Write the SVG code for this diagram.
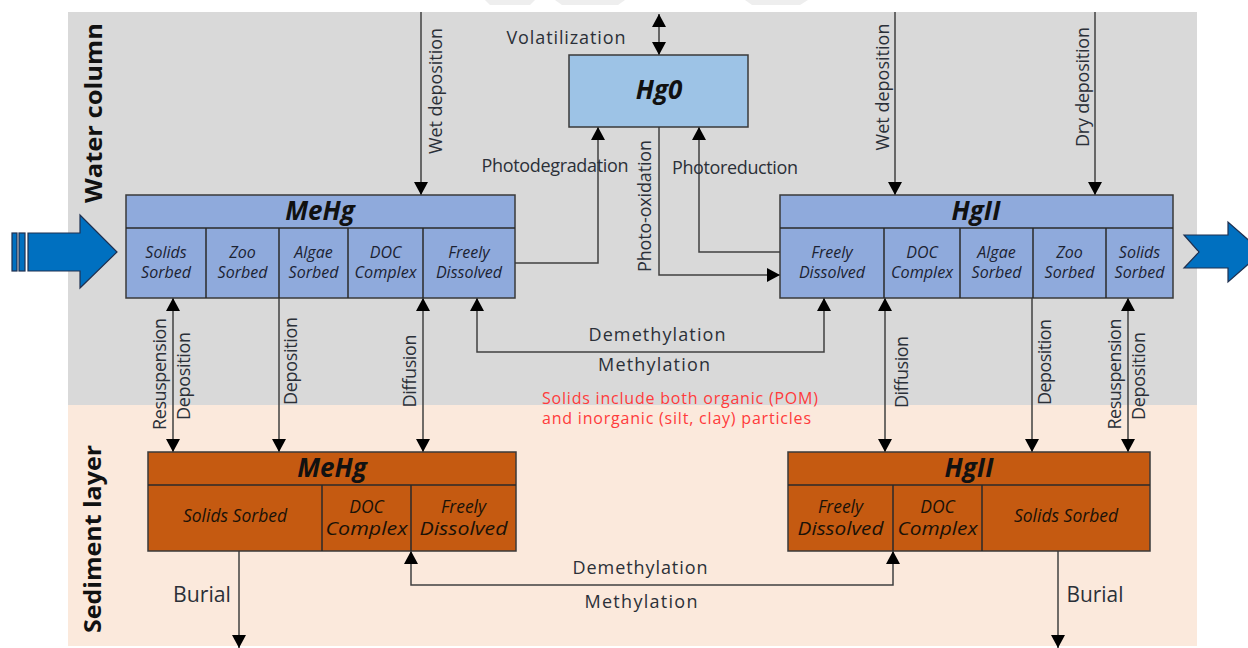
<svg xmlns="http://www.w3.org/2000/svg" width="1248" height="648" viewBox="0 0 1248 648">
<defs>
<style>
.lbl{font-family:"Open Sans","Liberation Sans",sans-serif;font-size:18px;fill:#2b3038}
.big{font-size:21px}
.cell{font-family:"Open Sans","Liberation Sans",sans-serif;font-size:16px;font-style:italic;fill:#1c2333;text-anchor:middle}
.scell{font-family:"Open Sans","Liberation Sans",sans-serif;font-size:17.5px;font-style:italic;fill:#1a1208;text-anchor:middle}
.hdr{font-family:"Open Sans","Liberation Sans",sans-serif;font-size:26px;font-weight:bold;font-style:italic;fill:#111;text-anchor:middle}
.zone{font-family:"Open Sans","Liberation Sans",sans-serif;font-size:24px;font-weight:bold;fill:#111;text-anchor:middle}
.red{font-family:"Open Sans","Liberation Sans",sans-serif;font-size:16px;fill:#ff3b3b}
.wbox{fill:#8faadc;stroke:#3a3a3a;stroke-width:1.5}
.sbox{fill:#c55a11;stroke:#3a3a3a;stroke-width:1.5}
.div{stroke:#2a2a2a;stroke-width:1.5;fill:none}
.con{stroke:#404040;stroke-width:1.5;fill:none}
.bigarrow{fill:#0070c0;stroke:#1f3050;stroke-width:1.2}
</style>
<marker id="ah" viewBox="0 0 14 14" markerWidth="14" markerHeight="14" refX="13" refY="7" orient="auto-start-reverse" markerUnits="userSpaceOnUse">
<path d="M0,0 L13,7 L0,14 z" fill="#000"/>
</marker>
</defs>

<!-- page -->
<rect x="0" y="0" width="1248" height="648" fill="#ffffff"/>
<g fill="#eeeeee">
<polygon points="485,0 535,0 530,5 490,5"/>
<polygon points="555,0 625,0 618,5 562,5"/>
<polygon points="745,0 808,0 800,5 752,5"/>
</g>

<!-- layers -->
<g id="water-column">
<rect x="68" y="12" width="1129" height="393" fill="#d9d9d9"/>
<text class="zone" transform="translate(102,113) rotate(-90)" textLength="180" lengthAdjust="spacingAndGlyphs">Water column</text>
</g>
<g id="sediment-layer">
<rect x="68" y="405" width="1129" height="241" fill="#fbe9dc"/>
<text class="zone" transform="translate(101,539) rotate(-90)" textLength="188" lengthAdjust="spacingAndGlyphs">Sediment layer</text>
</g>

<!-- big flow arrows -->
<g id="inflow">
<rect x="12" y="233" width="5" height="38" class="bigarrow"/>
<rect x="19" y="233" width="6" height="38" class="bigarrow"/>
<polygon class="bigarrow" points="28,233 80,233 80,215 117,252 80,288 80,271 28,271"/>
</g>
<g id="outflow">
<polygon class="bigarrow" points="1184,235 1228,235 1228,222 1262,252 1228,282 1228,268 1184,268 1199,252"/>
</g>

<!-- connectors -->
<g id="connectors">
<line class="con" x1="421" y1="12" x2="421" y2="195" marker-end="url(#ah)"/>
<line class="con" x1="659" y1="14" x2="659" y2="55" marker-start="url(#ah)" marker-end="url(#ah)"/>
<path class="con" d="M515,263 H598 V127" marker-end="url(#ah)"/>
<path class="con" d="M659,127 V275 H780" marker-end="url(#ah)"/>
<path class="con" d="M780,252 H699 V127" marker-end="url(#ah)"/>
<line class="con" x1="895" y1="12" x2="895" y2="195" marker-end="url(#ah)"/>
<line class="con" x1="1095" y1="12" x2="1095" y2="195" marker-end="url(#ah)"/>
<line class="con" x1="173" y1="298" x2="173" y2="452" marker-start="url(#ah)" marker-end="url(#ah)"/>
<line class="con" x1="279" y1="298" x2="279" y2="452" marker-end="url(#ah)"/>
<line class="con" x1="423" y1="298" x2="423" y2="452" marker-start="url(#ah)" marker-end="url(#ah)"/>
<path class="con" d="M477,298 V352 H824 V298" marker-start="url(#ah)" marker-end="url(#ah)"/>
<line class="con" x1="885" y1="298" x2="885" y2="452" marker-start="url(#ah)" marker-end="url(#ah)"/>
<line class="con" x1="1032" y1="298" x2="1032" y2="452" marker-end="url(#ah)"/>
<line class="con" x1="1128" y1="298" x2="1128" y2="452" marker-start="url(#ah)" marker-end="url(#ah)"/>
<line class="con" x1="239" y1="551" x2="239" y2="648" marker-end="url(#ah)"/>
<line class="con" x1="1058" y1="551" x2="1058" y2="648" marker-end="url(#ah)"/>
<path class="con" d="M411,551 V585 H893 V551" marker-start="url(#ah)" marker-end="url(#ah)"/>

<text class="lbl" text-anchor="middle" transform="translate(442,91) rotate(-90)" textLength="126" lengthAdjust="spacing">Wet deposition</text>
<text class="lbl" x="566" y="44" text-anchor="middle" textLength="119" lengthAdjust="spacing">Volatilization</text>
<text class="lbl" x="555" y="172" text-anchor="middle" textLength="147" lengthAdjust="spacing">Photodegradation</text>
<text class="lbl" text-anchor="middle" transform="translate(651,206) rotate(-90)" textLength="132" lengthAdjust="spacing">Photo-oxidation</text>
<text class="lbl" x="735" y="174" text-anchor="middle" textLength="126" lengthAdjust="spacing">Photoreduction</text>
<text class="lbl" text-anchor="middle" transform="translate(889,87) rotate(-90)" textLength="127" lengthAdjust="spacing">Wet deposition</text>
<text class="lbl" text-anchor="middle" transform="translate(1089,87) rotate(-90)" textLength="120" lengthAdjust="spacing">Dry deposition</text>
<text class="lbl" text-anchor="middle" transform="translate(166,374) rotate(-90)" textLength="112" lengthAdjust="spacing">Resuspension</text>
<text class="lbl" text-anchor="middle" transform="translate(190,376) rotate(-90)" textLength="88" lengthAdjust="spacing">Deposition</text>
<text class="lbl" text-anchor="middle" transform="translate(297,361) rotate(-90)" textLength="88" lengthAdjust="spacing">Deposition</text>
<text class="lbl" text-anchor="middle" transform="translate(416,371) rotate(-90)" textLength="73" lengthAdjust="spacing">Diffusion</text>
<text class="lbl" x="657" y="341" text-anchor="middle" textLength="137" lengthAdjust="spacing">Demethylation</text>
<text class="lbl" x="654" y="371" text-anchor="middle" textLength="112" lengthAdjust="spacing">Methylation</text>
<text class="lbl" text-anchor="middle" transform="translate(908,372) rotate(-90)" textLength="72" lengthAdjust="spacing">Diffusion</text>
<text class="lbl" text-anchor="middle" transform="translate(1051,362) rotate(-90)" textLength="86" lengthAdjust="spacing">Deposition</text>
<text class="lbl" text-anchor="middle" transform="translate(1121,374) rotate(-90)" textLength="111" lengthAdjust="spacing">Resuspension</text>
<text class="lbl" text-anchor="middle" transform="translate(1145,376) rotate(-90)" textLength="88" lengthAdjust="spacing">Deposition</text>
<text class="lbl" x="640" y="574" text-anchor="middle" textLength="135" lengthAdjust="spacing">Demethylation</text>
<text class="lbl" x="641" y="608" text-anchor="middle" textLength="113" lengthAdjust="spacing">Methylation</text>
<text class="lbl big" x="202" y="602" text-anchor="middle" textLength="58" lengthAdjust="spacingAndGlyphs">Burial</text>
<text class="lbl big" x="1095" y="602" text-anchor="middle" textLength="57" lengthAdjust="spacingAndGlyphs">Burial</text>
</g>

<g id="note">
<text class="red" x="542" y="404"><tspan x="542" y="404" textLength="276" lengthAdjust="spacing">Solids include both organic (POM)</tspan><tspan x="542" y="424" textLength="269" lengthAdjust="spacing">and inorganic (silt, clay) particles</tspan></text>
</g>

<!-- Hg0 -->
<g id="hg0">
<rect x="569" y="55" width="179" height="72" fill="#9dc3e6" stroke="#3a3a3a" stroke-width="1.5"/>
<text class="hdr" x="659" y="99">Hg0</text>
</g>

<!-- MeHg water -->
<g id="mehg-water">
<rect class="wbox" x="126" y="195" width="389" height="103"/>
<line class="div" x1="126" y1="228" x2="515" y2="228"/>
<line class="div" x1="206" y1="228" x2="206" y2="298"/>
<line class="div" x1="279" y1="228" x2="279" y2="298"/>
<line class="div" x1="348" y1="228" x2="348" y2="298"/>
<line class="div" x1="423" y1="228" x2="423" y2="298"/>
<text class="hdr" x="320" y="220">MeHg</text>
<text class="cell"><tspan x="166" y="258">Solids</tspan><tspan x="166" y="278">Sorbed</tspan></text>
<text class="cell"><tspan x="242.5" y="258">Zoo</tspan><tspan x="242.5" y="278">Sorbed</tspan></text>
<text class="cell"><tspan x="313.5" y="258">Algae</tspan><tspan x="313.5" y="278">Sorbed</tspan></text>
<text class="cell"><tspan x="385.5" y="258">DOC</tspan><tspan x="385.5" y="278" textLength="62" lengthAdjust="spacingAndGlyphs">Complex</tspan></text>
<text class="cell"><tspan x="469" y="258">Freely</tspan><tspan x="469" y="278">Dissolved</tspan></text>
</g>

<!-- HgII water -->
<g id="hgii-water">
<rect class="wbox" x="780" y="195" width="393" height="103"/>
<line class="div" x1="780" y1="228" x2="1173" y2="228"/>
<line class="div" x1="884" y1="228" x2="884" y2="298"/>
<line class="div" x1="960" y1="228" x2="960" y2="298"/>
<line class="div" x1="1033" y1="228" x2="1033" y2="298"/>
<line class="div" x1="1106" y1="228" x2="1106" y2="298"/>
<text class="hdr" x="976" y="220">HgII</text>
<text class="cell"><tspan x="832" y="258">Freely</tspan><tspan x="832" y="278">Dissolved</tspan></text>
<text class="cell"><tspan x="922" y="258">DOC</tspan><tspan x="922" y="278" textLength="62" lengthAdjust="spacingAndGlyphs">Complex</tspan></text>
<text class="cell"><tspan x="996.5" y="258">Algae</tspan><tspan x="996.5" y="278">Sorbed</tspan></text>
<text class="cell"><tspan x="1069.5" y="258">Zoo</tspan><tspan x="1069.5" y="278">Sorbed</tspan></text>
<text class="cell"><tspan x="1139.5" y="258">Solids</tspan><tspan x="1139.5" y="278">Sorbed</tspan></text>
</g>

<!-- MeHg sediment -->
<g id="mehg-sediment">
<rect class="sbox" x="148" y="452" width="368" height="99"/>
<line class="div" x1="148" y1="485" x2="516" y2="485"/>
<line class="div" x1="322" y1="485" x2="322" y2="551"/>
<line class="div" x1="411" y1="485" x2="411" y2="551"/>
<text class="hdr" x="332" y="477">MeHg</text>
<text class="scell" x="235" y="522">Solids Sorbed</text>
<text class="scell"><tspan x="366.5" y="513">DOC</tspan><tspan x="366.5" y="535" textLength="82" lengthAdjust="spacingAndGlyphs">Complex</tspan></text>
<text class="scell"><tspan x="463.5" y="513">Freely</tspan><tspan x="463.5" y="535" textLength="88" lengthAdjust="spacingAndGlyphs">Dissolved</tspan></text>
</g>

<!-- HgII sediment -->
<g id="hgii-sediment">
<rect class="sbox" x="788" y="452" width="362" height="99"/>
<line class="div" x1="788" y1="485" x2="1150" y2="485"/>
<line class="div" x1="893" y1="485" x2="893" y2="551"/>
<line class="div" x1="982" y1="485" x2="982" y2="551"/>
<text class="hdr" x="969" y="477">HgII</text>
<text class="scell"><tspan x="840.5" y="513">Freely</tspan><tspan x="840.5" y="535" textLength="86" lengthAdjust="spacingAndGlyphs">Dissolved</tspan></text>
<text class="scell"><tspan x="937.5" y="513">DOC</tspan><tspan x="937.5" y="535" textLength="80" lengthAdjust="spacingAndGlyphs">Complex</tspan></text>
<text class="scell" x="1066" y="522">Solids Sorbed</text>
</g>
</svg>
